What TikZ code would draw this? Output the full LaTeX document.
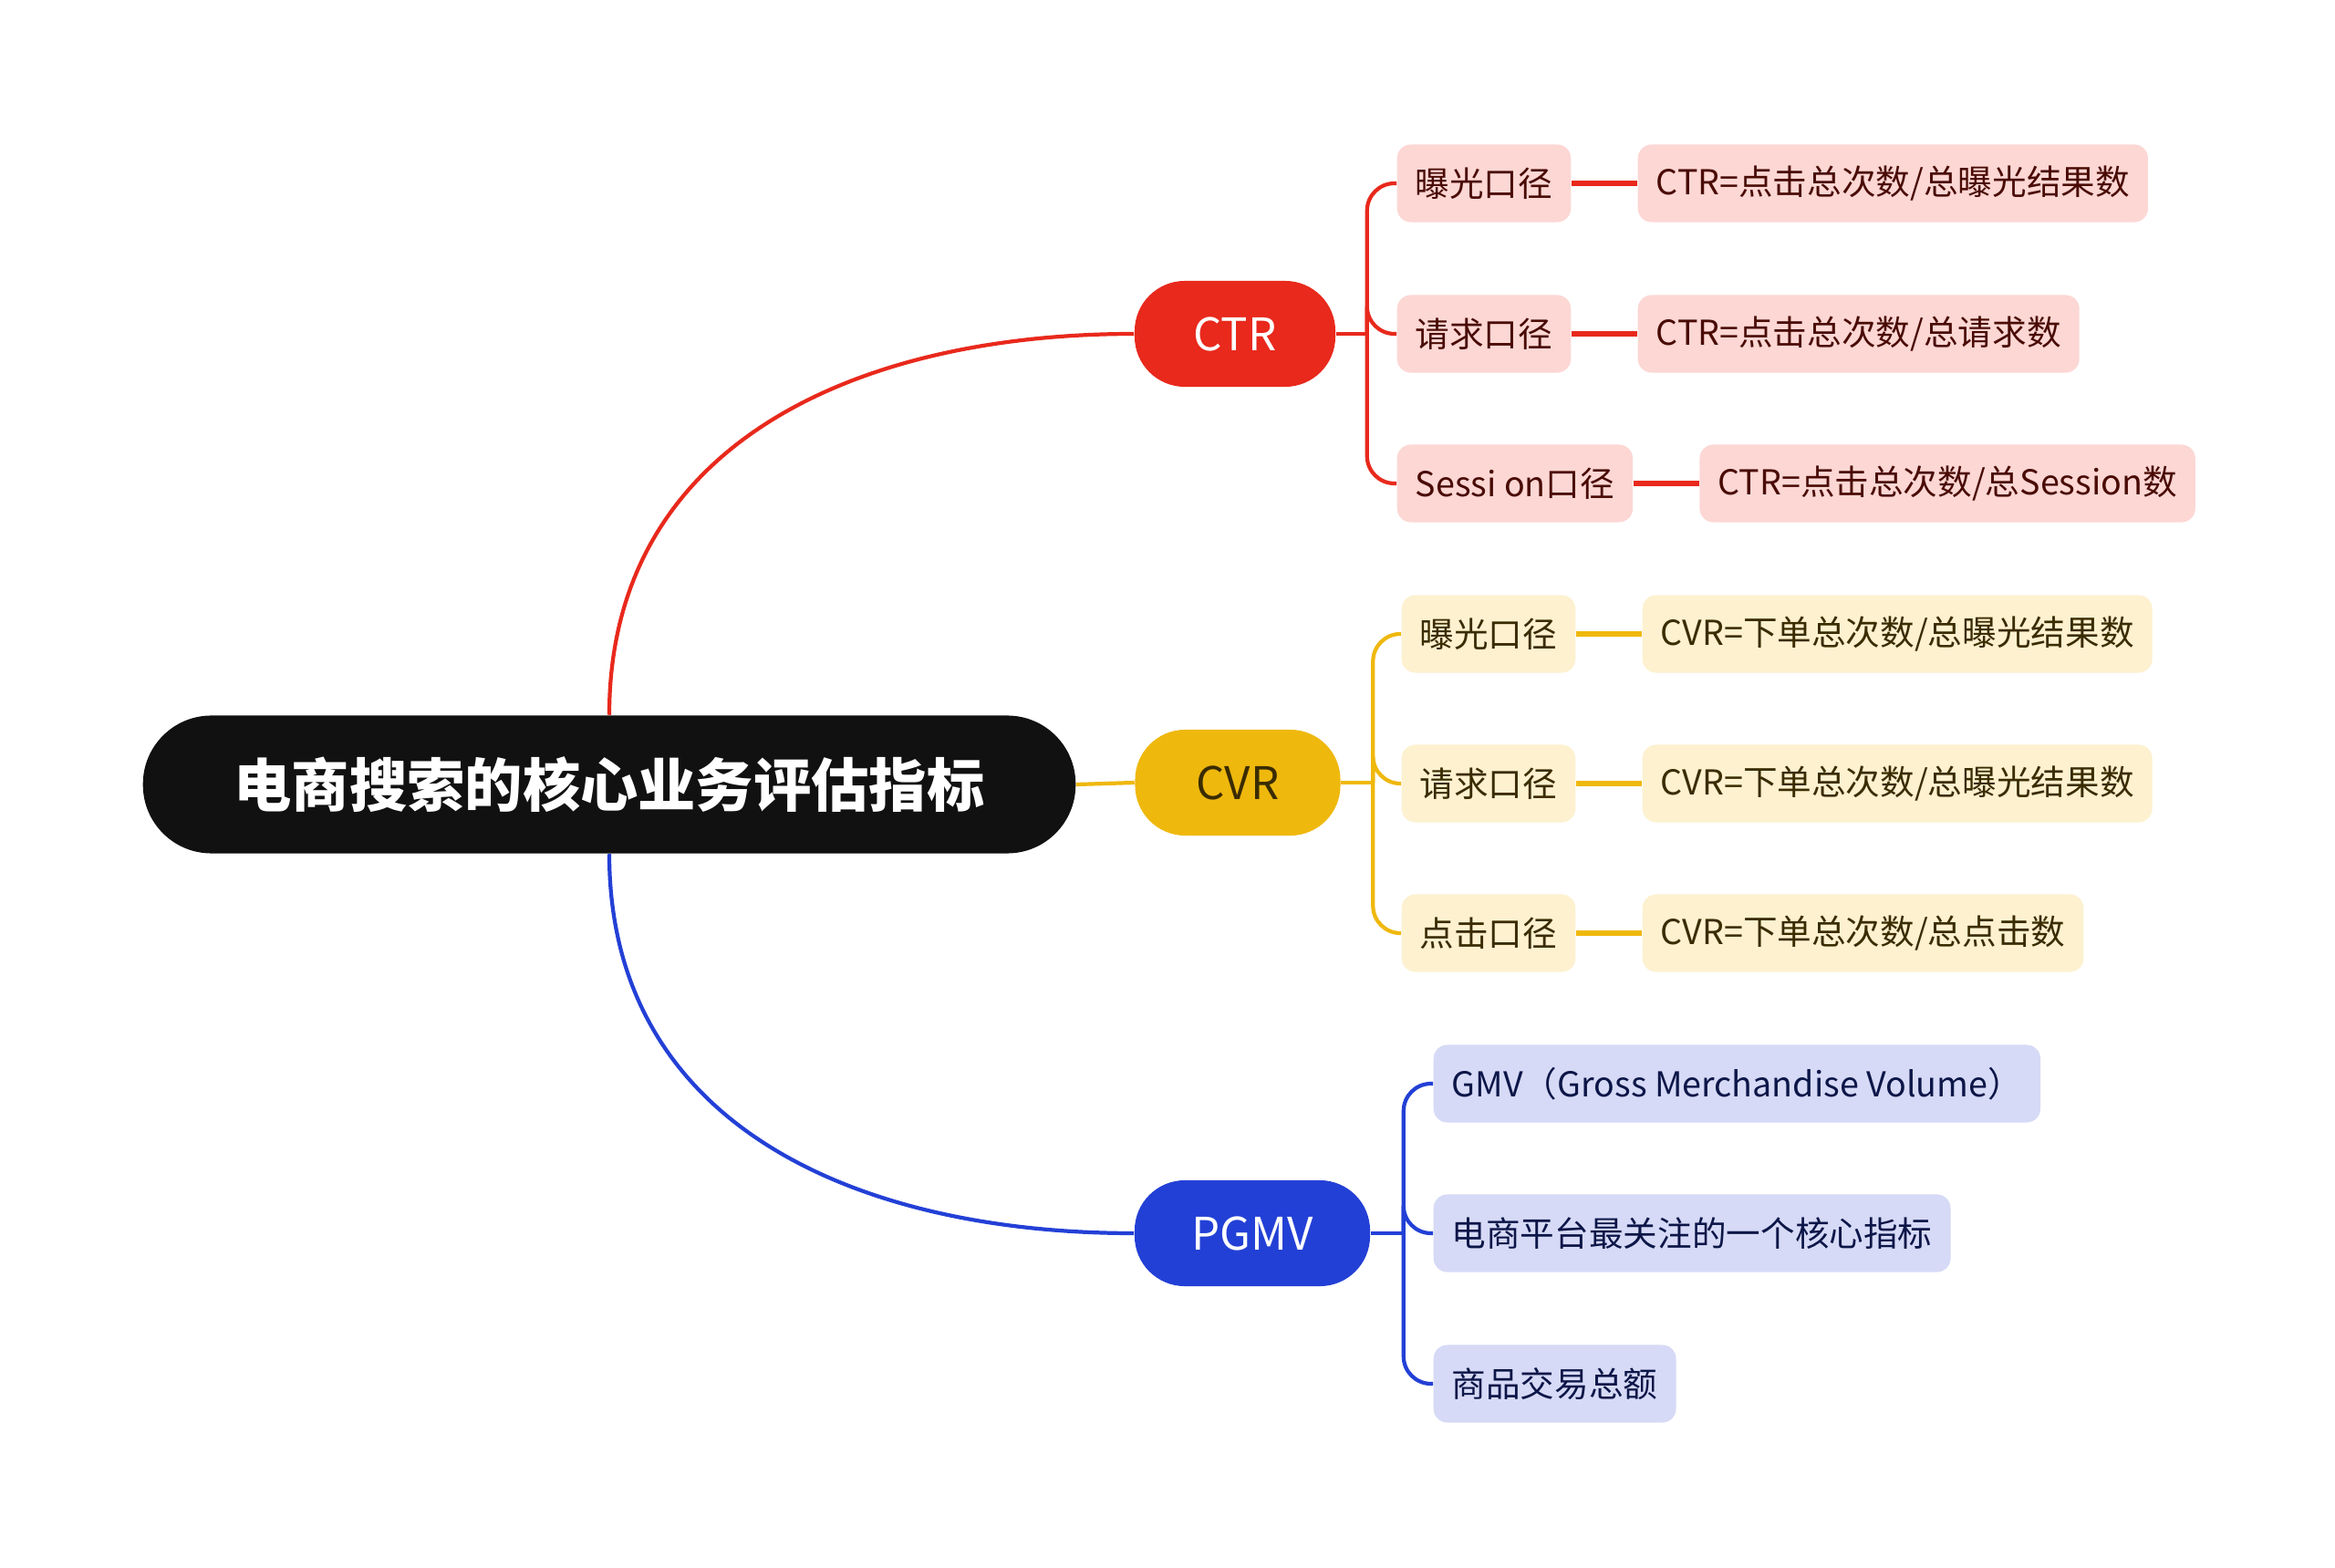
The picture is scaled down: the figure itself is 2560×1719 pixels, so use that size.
\documentclass[tikz,border=0pt]{standalone}
\usepackage{fontspec}
\setmainfont{Noto Sans CJK SC}
\usetikzlibrary{positioning,calc}
\definecolor{RootBlack}{HTML}{111111}
\definecolor{CtrRed}{HTML}{E8291C}
\definecolor{CvrYellow}{HTML}{EFB80D}
\definecolor{GmvBlue}{HTML}{2340D6}
\definecolor{LightRed}{HTML}{FCD7D4}
\definecolor{LightYellow}{HTML}{FDF1D0}
\definecolor{LightBlue}{HTML}{D6DAF6}
\definecolor{DarkRed}{HTML}{4A0B05}
\definecolor{DarkYellow}{HTML}{3A2C00}
\definecolor{DarkBlue}{HTML}{0C1648}
\tikzset{
  rootbox/.style={rounded corners=0.75cm, fill=RootBlack, text=white, minimum width=10.22cm, minimum height=1.51cm, font=\fontsize{18}{22}\selectfont\bfseries},
  mainbox/.style={rounded corners=0.55cm, minimum height=1.16cm, inner xsep=0.45cm, font=\fontsize{14}{17}\selectfont},
  subbox/.style={rounded corners=0.15cm, minimum height=0.85cm, inner xsep=0.2cm, font=\fontsize{10.7}{13.5}\selectfont},
  redsub/.style={subbox, fill=LightRed, text=DarkRed},
  yellowsub/.style={subbox, fill=LightYellow, text=DarkYellow},
  bluesub/.style={subbox, fill=LightBlue, text=DarkBlue},
  link/.style={line width=1.2pt},
  sublink/.style={line width=1.2pt, rounded corners=0.3cm},
  formlink/.style={line width=1.6pt}
}
\begin{document}
\begin{tikzpicture}[x=0.01cm, y=-0.01cm]
\fill[white] (0,0) rectangle (2560,1719);
\useasboundingbox (0,0) rectangle (2560,1719);
% centre and the three measures
\node[rootbox] (root) at (668,860) {电商搜索的核心业务评估指标};
\node[mainbox, fill=CtrRed, text=white, minimum width=2.2cm] (ctr) at (1354,366) {CTR};
\node[mainbox, fill=CvrYellow, text=DarkYellow, minimum width=2.25cm] (cvr) at (1357,858) {CVR};
\node[mainbox, fill=GmvBlue, text=white, minimum width=2.58cm] (pgmv) at (1373,1352) {PGMV};
\draw[link, CtrRed] (root.north) .. controls +(0,-300) and +(-300,0) .. (ctr.west);
\draw[link, CvrYellow] (root.east) -- (cvr.west);
\draw[link, GmvBlue] (root.south) .. controls +(0,300) and +(-300,0) .. (pgmv.west);
% CTR branch
\node[redsub, anchor=west] (ctrexp) at (1531,201) {曝光口径};
\node[redsub, anchor=west] (ctrreq) at (1531,366) {请求口径};
\node[redsub, anchor=west] (ctrses) at (1531,530) {Sessi on口径};
\node[redsub, right=0.72cm of ctrexp] (ctrexpf) {CTR=点击总次数/总曝光结果数};
\node[redsub, right=0.72cm of ctrreq] (ctrreqf) {CTR=点击总次数/总请求数};
\node[redsub, right=0.72cm of ctrses] (ctrsesf) {CTR=点击总次数/总Session数};
\coordinate (ctrbus) at ([xshift=0.34cm]ctr.east);
\draw[link, CtrRed] (ctr.east) -- (ctrbus);
\foreach \c in {ctrexp, ctrreq, ctrses}
  \draw[sublink, CtrRed] (ctrbus) |- (\c.west);
\draw[formlink, CtrRed] (ctrexp) -- (ctrexpf);
\draw[formlink, CtrRed] (ctrreq) -- (ctrreqf);
\draw[formlink, CtrRed] (ctrses) -- (ctrsesf);
% CVR branch
\node[yellowsub, anchor=west] (cvrexp) at (1536,695) {曝光口径};
\node[yellowsub, anchor=west] (cvrreq) at (1536,859) {请求口径};
\node[yellowsub, anchor=west] (cvrclk) at (1536,1023) {点击口径};
\node[yellowsub, right=0.72cm of cvrexp] (cvrexpf) {CVR=下单总次数/总曝光结果数};
\node[yellowsub, right=0.72cm of cvrreq] (cvrreqf) {CVR=下单总次数/总曝光结果数};
\node[yellowsub, right=0.72cm of cvrclk] (cvrclkf) {CVR=下单总次数/总点击数};
\coordinate (cvrbus) at ([xshift=0.35cm]cvr.east);
\draw[link, CvrYellow] (cvr.east) -- (cvrbus);
\foreach \c in {cvrexp, cvrreq, cvrclk}
  \draw[sublink, CvrYellow] (cvrbus) |- (\c.west);
\draw[formlink, CvrYellow] (cvrexp) -- (cvrexpf);
\draw[formlink, CvrYellow] (cvrreq) -- (cvrreqf);
\draw[formlink, CvrYellow] (cvrclk) -- (cvrclkf);
% PGMV branch
\node[bluesub, anchor=west] (gmvname) at (1571,1188) {GMV（Gross Merchandise Volume）};
\node[bluesub, anchor=west] (gmvkey) at (1571,1352) {电商平台最关注的一个核心指标};
\node[bluesub, anchor=west] (gmvsum) at (1571,1517) {商品交易总额};
\coordinate (pgmvbus) at ([xshift=0.36cm]pgmv.east);
\draw[link, GmvBlue] (pgmv.east) -- (pgmvbus);
\foreach \c in {gmvname, gmvkey, gmvsum}
  \draw[sublink, GmvBlue] (pgmvbus) |- (\c.west);
\end{tikzpicture}
\end{document}
